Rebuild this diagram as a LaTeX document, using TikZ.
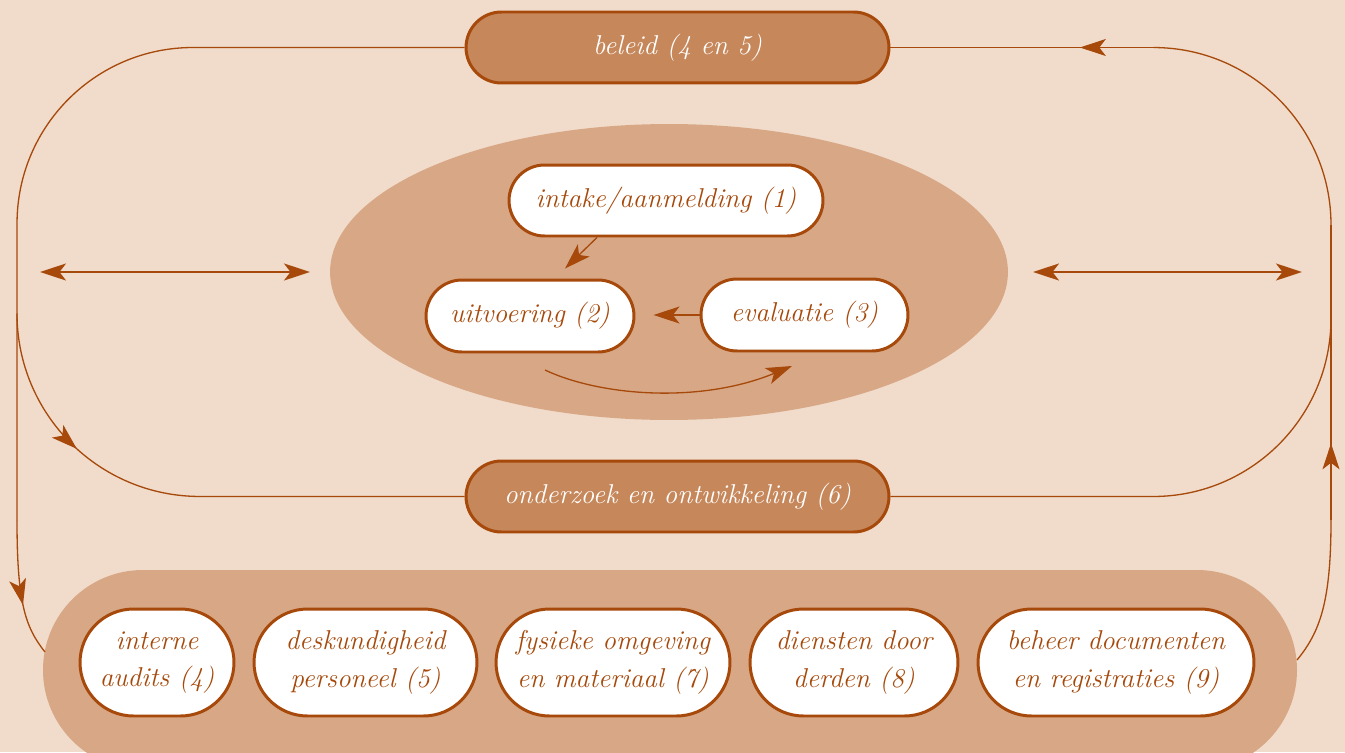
\documentclass[tikz,border=0pt]{standalone}
\usetikzlibrary{arrows.meta,decorations.markings,shapes.misc,calc}
\definecolor{bgc}{RGB}{241,220,203}
\definecolor{midc}{RGB}{216,168,134}
\definecolor{darkc}{RGB}{198,135,91}
\definecolor{lnc}{RGB}{166,73,11}
\begin{document}
\begin{tikzpicture}[x=0.02cm,y=0.02cm,
  tipx/.tip={Stealth[length=0.52cm,width=0.34cm,inset=0.13cm]},
  loopline/.style={draw=lnc,line width=0.75pt},
  inarrow/.style={draw=lnc,line width=0.75pt,-tipx},
  dblarrow/.style={draw=lnc,line width=1.1pt,tipx-tipx},
  midarrow/.style={postaction={decorate},decoration={markings,mark=at position #1 with {\arrow[lnc]{tipx}}}},
  whitebox/.style={rounded rectangle,draw=lnc,line width=1.7pt,fill=white,text=lnc,inner sep=0pt,align=center,
    font=\fontsize{15.5}{21.5}\selectfont\itshape},
  darkbox/.style={whitebox,fill=darkc,text=white}]
\fill[bgc] (0,0) rectangle (1345,752);
\useasboundingbox (0,0) rectangle (1345,752);
% containers
\fill[midc] (669,480) ellipse [x radius=6.78cm,y radius=2.96cm];
\fill[midc,rounded corners=2cm] (43,-18) rectangle (1297,182);
% nodes
\node[darkbox,minimum width=8.46cm,minimum height=1.42cm] (beleid) at (677.5,704.5) {beleid (4 en 5)};
\node[darkbox,minimum width=8.46cm,minimum height=1.42cm] (onder) at (677.5,255.5) {onderzoek en ontwikkeling (6)};
\node[whitebox,minimum width=6.28cm,minimum height=1.42cm] (intake) at (666,551.5) {intake/aanmelding (1)};
\node[whitebox,minimum width=4.16cm,minimum height=1.44cm] (uit) at (530,436) {uitvoering (2)};
\node[whitebox,minimum width=4.14cm,minimum height=1.44cm] (eval) at (804.5,437) {evaluatie (3)};
\node[whitebox,minimum width=3.08cm,minimum height=2.14cm] (aud) at (157,89.5) {interne\\audits (4)};
\node[whitebox,minimum width=4.46cm,minimum height=2.14cm] (desk) at (365.5,89.5) {deskundigheid\\personeel (5)};
\node[whitebox,minimum width=4.68cm,minimum height=2.14cm] (fys) at (613,89.5) {fysieke omgeving\\en materiaal (7)};
\node[whitebox,minimum width=4.16cm,minimum height=2.14cm] (dien) at (854,89.5) {diensten door\\derden (8)};
\node[whitebox,minimum width=5.52cm,minimum height=2.14cm] (beh) at (1116,89.5) {beheer documenten\\en registraties (9)};
% coordinates
\coordinate (lA) at (17,232);
\coordinate (lB) at (17,438.5);
\coordinate (lEnd) at (45,100);
\coordinate (rA) at (1331,232);
\coordinate (rB) at (1331,527);
\coordinate (rTop) at (1153.5,704.5);
\coordinate (rEnd) at (1297,92);
\coordinate (dl1) at (40,480);
\coordinate (dl2) at (310,480);
\coordinate (dr1) at (1033,480);
\coordinate (dr2) at (1302,480);
\coordinate (cS) at (545,382);
\coordinate (cE) at (792,386);
% left loop
\draw[loopline] (beleid.west) -- (193,704.5) arc[start angle=90,end angle=180,radius=3.52cm] -- (lA);
\draw[loopline,midarrow=0.62] (lA) .. controls (17,150) and (25,125) .. (lEnd);
\draw[loopline,midarrow=0.53] (lB) arc[start angle=180,end angle=270,radius=3.66cm] coordinate (lC);
\draw[loopline] (lC) -- (onder.west);
% right loop
\draw[loopline] (rEnd) .. controls (1320,120) and (1331,150) .. (rA);
\draw[loopline,midarrow=0.26] (rA) -- (rB);
\draw[loopline] (rB) arc[start angle=0,end angle=90,radius=3.55cm];
\draw[loopline,midarrow=0.28] (rTop) -- (beleid.east);
\draw[loopline] (onder.east) -- (1153,255.5) arc[start angle=270,end angle=360,radius=3.56cm];
% double arrows
\draw[dblarrow] (dl1) -- (dl2);
\draw[dblarrow] (dr1) -- (dr2);
% inner arrows
\draw[inarrow] ($(intake.south)+(-69,0)$) -- ($(uit.north)+(35,10)$);
\draw[inarrow] (eval.west) -- ($(uit.east)+(18,1)$);
\draw[inarrow] (cS) .. controls (600,356) and (700,348) .. (cE);
\end{tikzpicture}
\end{document}
